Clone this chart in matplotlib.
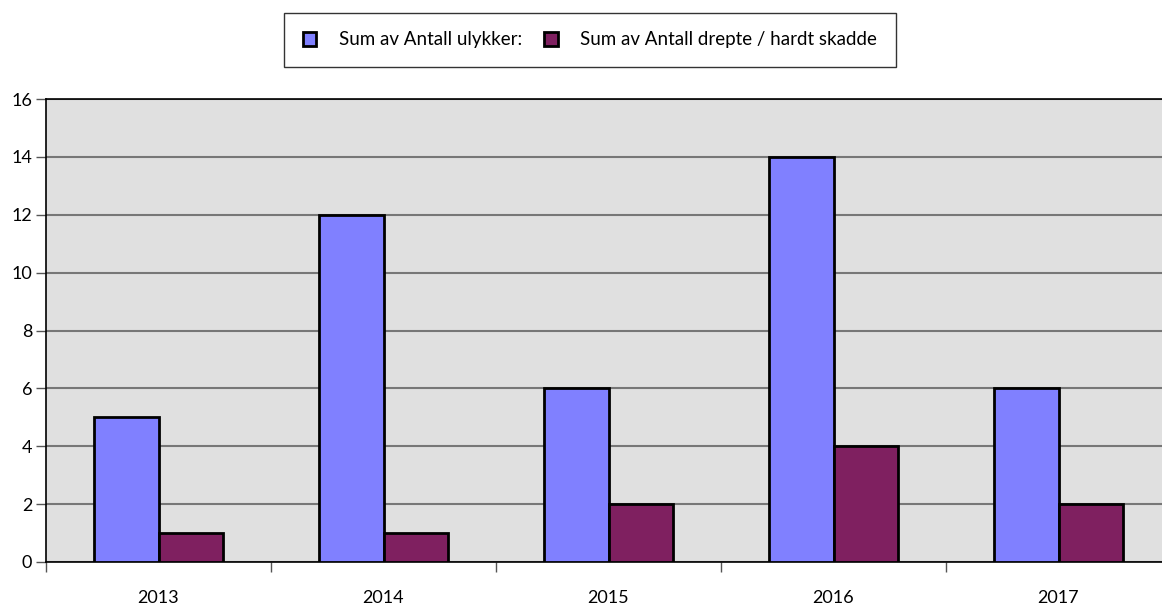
import matplotlib.pyplot as plt
import matplotlib.patches as patches
import numpy as np

YEARS = ['2013', '2014', '2015', '2016', '2017']
ULYKKER = [5, 12, 6, 14, 6]
DREPTE = [1, 1, 2, 4, 2]
LABELS = ['Sum av Antall ulykker:', 'Sum av Antall drepte / hardt skadde']
COLORS = ['#8080FF', '#7F2060']

plt.rcParams['font.family'] = ['Lato', 'DejaVu Sans']

W, H, DPI = 1162, 605, 100


def main():
    fig = plt.figure(figsize=(W / DPI, H / DPI), dpi=DPI)
    left, right, top, bottom = 46, 1171, 99, 562
    ax = fig.add_axes([left / W, 1 - bottom / H, (right - left) / W, (bottom - top) / H])
    ax.set_facecolor('#E0E0E0')

    x = np.arange(len(YEARS))
    w = 0.287
    ax.bar(x - w / 2, ULYKKER, w, color=COLORS[0], edgecolor='black', linewidth=2, zorder=3)
    ax.bar(x + w / 2, DREPTE, w, color=COLORS[1], edgecolor='black', linewidth=2, zorder=3)

    ax.set_xlim(-0.5, len(YEARS) - 0.5)
    ax.set_ylim(0, 16)
    ax.set_yticks(np.arange(0, 17, 2))
    ax.yaxis.grid(True, color='#777777', linewidth=1.5, zorder=0)
    ax.set_axisbelow(True)

    ax.set_xticks(np.arange(-0.5, len(YEARS) - 0.4, 1))
    ax.set_xticklabels([])
    ax.set_xticks(x, minor=True)
    ax.set_xticklabels(YEARS, minor=True)
    ax.tick_params(axis='x', which='major', length=7, width=1, color='#555555')
    ax.tick_params(axis='x', which='minor', length=0, pad=20, labelsize=13)
    ax.tick_params(axis='y', length=7, width=1, color='#555555', labelsize=13, pad=3)

    for s in ['left', 'bottom', 'top']:
        ax.spines[s].set_color('black')
        ax.spines[s].set_linewidth(1.2)
    ax.spines['right'].set_visible(False)

    handles = [patches.Patch(facecolor=c, edgecolor='black', linewidth=2) for c in COLORS]
    leg = fig.legend(handles, LABELS, loc='center', bbox_to_anchor=(590 / W, 1 - 40 / H),
                     ncol=2, frameon=True, fancybox=False, edgecolor='black', fontsize=13.5,
                     handlelength=0.7, handleheight=0.7, handletextpad=1.2, columnspacing=1.2,
                     borderpad=1.0, borderaxespad=0)
    leg.get_frame().set_linewidth(1.0)

    fig.savefig('out.png', dpi=DPI)


if __name__ == '__main__':
    main()
